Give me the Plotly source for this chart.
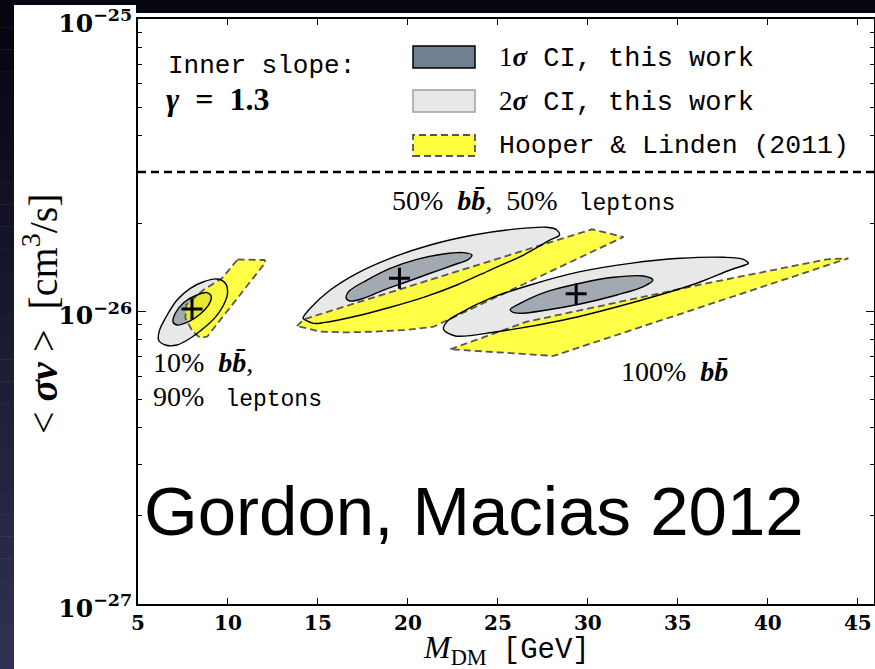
import plotly.graph_objects as go

# ---------------------------------------------------------------------------
# Data: confidence contours in the (M_DM [GeV], <sigma v> [cm^3/s]) plane
# ---------------------------------------------------------------------------
relic_sigmav = 3e-26          # thermal relic cross section

# 10% b-bbar, 90% leptons
c10_2s_x = [6.144, 6.200, 6.517, 7.167, 7.906, 8.644, 9.389, 9.850, 9.978, 9.756,
            9.294, 8.644, 7.906, 7.167, 6.517, 6.144]
c10_2s_y = [7.99e-27, 8.64e-27, 9.48e-27, 1.095e-26, 1.200e-26, 1.264e-26, 1.292e-26,
            1.249e-26, 1.154e-26, 1.053e-26, 9.55e-27, 8.76e-27, 8.10e-27, 7.68e-27,
            7.68e-27, 7.99e-27]
c10_1s_x = [6.944, 7.072, 7.533, 8.183, 8.833, 9.072, 8.922, 8.461, 7.811, 7.167, 6.944]
c10_1s_y = [9.23e-27, 9.86e-27, 1.072e-26, 1.132e-26, 1.160e-26, 1.124e-26, 1.053e-26,
            9.81e-27, 9.23e-27, 8.99e-27, 9.23e-27]
hl10_x = [10.533, 12.017, 12.1, 8.85, 8.461, 8.017, 7.628, 7.683, 8.628, 9.683, 10.533]
hl10_y = [1.506e-26, 1.50e-26, 1.476e-26, 8.21e-27, 8.12e-27, 8.58e-27, 9.50e-27,
          1.053e-26, 1.184e-26, 1.302e-26, 1.506e-26]

# 50% b-bbar, 50% leptons
c50_2s_x = [14.167, 14.572, 15.683, 17.167, 19.017, 21.239, 23.644, 25.5, 27.722, 28.278,
            28.422, 27.906, 26.422, 24.572, 22.722, 20.867, 19.017, 17.167, 15.311, 14.756,
            14.239, 14.167]
c50_2s_y = [9.48e-27, 1.026e-26, 1.184e-26, 1.351e-26, 1.520e-26, 1.688e-26, 1.826e-26,
            1.90e-26, 1.940e-26, 1.90e-26, 1.826e-26, 1.756e-26, 1.560e-26, 1.386e-26,
            1.232e-26, 1.118e-26, 1.034e-26, 9.65e-27, 9.16e-27, 9.11e-27, 9.40e-27, 9.48e-27]
c50_1s_x = [16.572, 16.7, 17.722, 19.017, 20.5, 21.978, 23.089, 23.556, 23.367, 22.533,
            21.239, 19.944, 18.644, 17.533, 16.794, 16.572]
c50_1s_y = [1.110e-26, 1.169e-26, 1.281e-26, 1.405e-26, 1.508e-26, 1.572e-26, 1.589e-26,
            1.560e-26, 1.508e-26, 1.442e-26, 1.351e-26, 1.264e-26, 1.184e-26, 1.110e-26,
            1.086e-26, 1.110e-26]
hl50_x = [13.833, 14.2, 30.222, 31.978, 21.422, 19.85, 18.089, 16.517, 15.128, 13.833]
hl50_y = [8.92e-27, 9.40e-27, 1.910e-26, 1.798e-26, 8.87e-27, 8.64e-27, 8.53e-27,
          8.48e-27, 8.54e-27, 8.92e-27]

# 100% b-bbar
c100_2s_x = [21.978, 22.628, 24.944, 28.644, 32.35, 36.056, 37.906, 38.739, 38.922, 38.644,
             37.533, 35.128, 32.35, 29.572, 26.794, 24.572, 22.906, 22.167, 21.978]
c100_2s_y = [8.69e-27, 8.25e-27, 8.53e-27, 9.35e-27, 1.067e-26, 1.249e-26, 1.386e-26,
             1.442e-26, 1.461e-26, 1.508e-26, 1.532e-26, 1.520e-26, 1.461e-26, 1.368e-26,
             1.232e-26, 1.108e-26, 9.88e-27, 9.23e-27, 8.69e-27]
c100_1s_x = [25.683, 26.239, 27.722, 29.572, 31.422, 33.089, 33.611, 33.089, 31.611, 29.572,
             27.722, 26.239, 25.778, 25.683]
c100_1s_y = [1.017e-26, 1.067e-26, 1.169e-26, 1.249e-26, 1.309e-26, 1.322e-26, 1.281e-26,
             1.216e-26, 1.139e-26, 1.061e-26, 1.012e-26, 9.86e-27, 9.98e-27, 1.017e-26]
hl100_x = [22.35, 26.611, 36.611, 43.278, 44.478, 28.089, 22.35]
hl100_y = [7.43e-27, 9.23e-27, 1.249e-26, 1.508e-26, 1.520e-26, 7.05e-27, 7.43e-27]

# best-fit points
best_x = [8.0, 19.53, 29.35]
best_y = [1.02e-26, 1.30e-26, 1.15e-26]

x_ticks = [5, 10, 15, 20, 25, 30, 35, 40, 45]

# ---------------------------------------------------------------------------
# Figure geometry and styling
# ---------------------------------------------------------------------------
W, H = 875, 669
ML, MR, MT, MB = 138, 1, 19, 65
PW, PH = W - ML - MR, H - MT - MB
X_RANGE = [5, 45.9]


def paper(px, py):
    """Figure pixel position -> paper coordinates."""
    return (px - ML) / PW, (H - MB - py) / PH


SERIF = "Liberation Serif"
MONO = "Liberation Mono"
C1 = "rgb(162,169,176)"
C2 = "rgb(232,232,232)"
CY = "rgba(255,255,0,0.72)"
EDGE_Y = "rgb(85,85,85)"

two_sigma = [(c10_2s_x, c10_2s_y), (c50_2s_x, c50_2s_y), (c100_2s_x, c100_2s_y)]
one_sigma = [(c10_1s_x, c10_1s_y), (c50_1s_x, c50_1s_y), (c100_1s_x, c100_1s_y)]
hooper = [(hl10_x, hl10_y), (hl50_x, hl50_y), (hl100_x, hl100_y)]

fig = go.Figure()

for xs, ys in two_sigma:
    fig.add_trace(go.Scatter(x=xs, y=ys, mode="lines", fill="toself", fillcolor=C2,
                             line=dict(width=0, shape="spline", smoothing=0.9),
                             hoverinfo="skip", showlegend=False))
for xs, ys in one_sigma:
    fig.add_trace(go.Scatter(x=xs, y=ys, mode="lines", fill="toself", fillcolor=C1,
                             line=dict(width=0, shape="spline", smoothing=0.9),
                             hoverinfo="skip", showlegend=False))
for xs, ys in hooper:
    fig.add_trace(go.Scatter(x=xs, y=ys, mode="lines", fill="toself", fillcolor=CY,
                             line=dict(color=EDGE_Y, width=1.8, dash="7px,4px"),
                             hoverinfo="skip", showlegend=False))
for xs, ys in two_sigma + one_sigma:
    fig.add_trace(go.Scatter(x=xs, y=ys, mode="lines",
                             line=dict(color="black", width=1.4, shape="spline", smoothing=0.9),
                             hoverinfo="skip", showlegend=False))

# thermal relic line
fig.add_trace(go.Scatter(x=X_RANGE, y=[relic_sigmav, relic_sigmav], mode="lines",
                         line=dict(color="black", width=2.5, dash="8px,5px"),
                         hoverinfo="skip", showlegend=False))

# best-fit markers
fig.add_trace(go.Scatter(x=best_x, y=best_y, mode="markers",
                         marker=dict(symbol="cross-thin", size=15, color="black",
                                     line=dict(width=3, color="black")),
                         hoverinfo="skip", showlegend=False))

# ---------------------------------------------------------------------------
# Background panel (dark frame with a gradient on the left)
# ---------------------------------------------------------------------------
shapes = []


def band(px0, py0, px1, py1, color):
    bx0, by0 = paper(px0, py0)
    bx1, by1 = paper(px1, py1)
    return dict(type="rect", xref="paper", yref="paper", x0=bx0, x1=bx1, y0=by1, y1=by0,
                fillcolor=color, line=dict(width=0), layer="below")


shapes.append(band(0, 0, W, 5, "rgb(6,6,16)"))
shapes.append(band(136, 0, W, 13, "rgb(6,6,16)"))
n_strips = 30
top_rgb, bot_rgb = (5, 5, 16), (48, 48, 82)
for i in range(n_strips):
    t = i / (n_strips - 1)
    c = tuple(int(round(a + (b - a) * t)) for a, b in zip(top_rgb, bot_rgb))
    pa = 5 + (H - 5) * i / n_strips
    pb = 5 + (H - 5) * (i + 1) / n_strips + 0.5
    shapes.append(band(0, pa, 14, pb, "rgb(%d,%d,%d)" % c))


# legend swatches
def swatch(py_top, py_bot, fill, line):
    ax0, ay0 = paper(413, py_top)
    ax1, ay1 = paper(475, py_bot)
    return dict(type="rect", xref="paper", yref="paper", x0=ax0, x1=ax1, y0=ay1, y1=ay0,
                fillcolor=fill, line=line, layer="above")


shapes.append(swatch(46, 68, "rgb(112,128,144)", dict(color="black", width=1.5)))
shapes.append(swatch(90, 112, C2, dict(color="rgb(160,160,160)", width=1.5)))
shapes.append(swatch(135, 156, "rgb(255,255,64)", dict(color=EDGE_Y, width=1.8, dash="7px,4px")))

# ---------------------------------------------------------------------------
# Text
# ---------------------------------------------------------------------------
annotations = []


def label(px, py, text, size=28, family=SERIF, anchor="left", angle=0, color="black"):
    ax, ay = paper(px, py)
    annotations.append(dict(x=ax, y=ay, xref="paper", yref="paper", text=text,
                            showarrow=False, xanchor=anchor, yanchor="middle",
                            textangle=angle, font=dict(family=family, size=size, color=color)))


bbar = "<b><i>bb\u0304</i></b>"
sp = "&nbsp; "


def mono(s, size=None):
    style = "font-family:%s" % MONO
    if size:
        style += ";font-size:%dpx" % size
    return "<span style='%s'>%s</span>" % (style, s)


label(166, 66, "Inner slope:", size=26, family=MONO)
label(164, 99, "<b><i>\u03b3</i>&nbsp; =&nbsp; 1.3</b>", size=32)

label(497, 58, "1<b><i>\u03c3</i></b>" + mono(" CI, this work"), size=27)
label(497, 102, "2<b><i>\u03c3</i></b>" + mono(" CI, this work"), size=27)
label(497, 146, mono("Hooper &amp; Linden (2011)"), size=26.5)

label(390, 201, "50%" + sp + bbar + "," + sp + "50%&nbsp;" + sp + mono("leptons", 23))
label(151, 362, "10%" + sp + bbar + ",")
label(151, 397, "90%&nbsp;" + sp + mono("leptons", 23))
label(619, 371, "100%" + sp + bbar)

label(142, 511, "Gordon, Macias 2012", size=69, family="Liberation Sans")

# axis titles
label(506, 649, "<i>M</i><sub>DM</sub>&nbsp; " + mono("[GeV]", 29),
      size=32, anchor="center")
label(40, 314, "&lt;&nbsp;<b><i>\u03c3v</i></b>&nbsp;&gt;&nbsp; [cm<sup>3</sup>/s]",
      size=40, anchor="center", angle=-90)

# ---------------------------------------------------------------------------
# Layout
# ---------------------------------------------------------------------------
tickfont = dict(family="DejaVu Serif", size=20, color="black", weight="bold")

fig.update_layout(
    width=W, height=H,
    margin=dict(l=ML, r=MR, t=MT, b=MB, autoexpand=False),
    paper_bgcolor="white", plot_bgcolor="white",
    shapes=shapes, annotations=annotations,
    showlegend=False,
    xaxis=dict(range=X_RANGE, tickvals=x_ticks, ticks="inside", ticklen=6, tickwidth=1.2,
               tickcolor="black", mirror="allticks", showline=True, linecolor="black",
               linewidth=1.6, showgrid=False, zeroline=False, tickfont=tickfont),
    yaxis=dict(type="log", range=[-27, -25], dtick=1, exponentformat="power",
               ticks="inside", ticklen=8, tickwidth=1.2, tickcolor="black",
               mirror="allticks", showline=True, linecolor="black", linewidth=1.6,
               showgrid=False, zeroline=False, tickfont=tickfont, ticklabelshift=4,
               minor=dict(ticks="inside", ticklen=4, tickwidth=1, tickcolor="black",
                          dtick="D1", showgrid=False)),
)

fig.write_html("out.html")
